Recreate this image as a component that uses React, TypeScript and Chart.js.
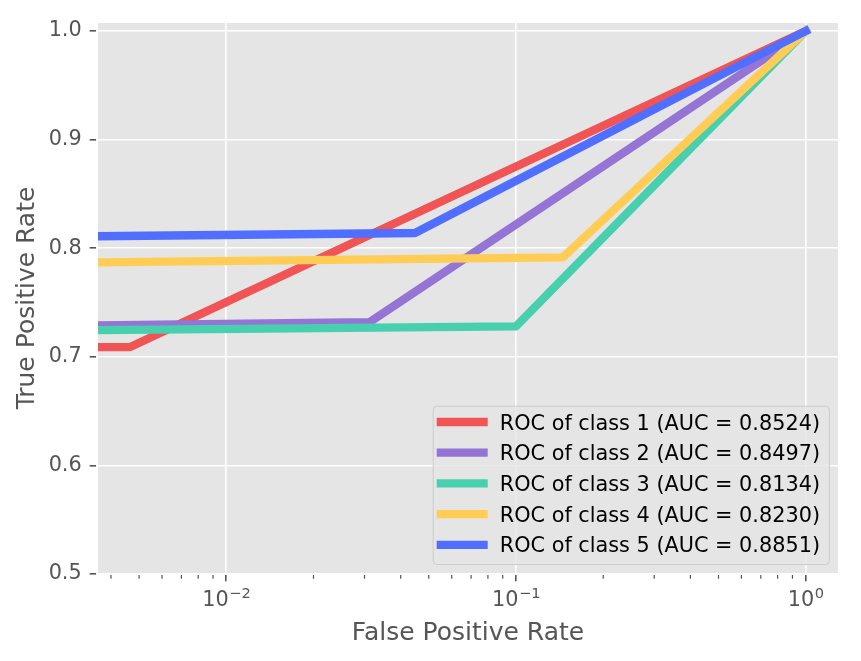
import React, { useEffect, useRef } from 'react';
import { Chart, registerables } from 'chart.js';

Chart.register(...registerables);

// ROC curves, one per class: false positive rate (x) against true positive rate (y)
const FPR_CLASS_1 = [0.0035, 0.00466, 1.0];
const TPR_CLASS_1 = [0.709, 0.709, 1.0];
const FPR_CLASS_2 = [0.0035, 0.0313, 1.0];
const TPR_CLASS_2 = [0.729, 0.732, 1.0];
const FPR_CLASS_3 = [0.0035, 0.1, 1.0];
const TPR_CLASS_3 = [0.7245, 0.728, 1.0];
const FPR_CLASS_4 = [0.0035, 0.145, 1.0];
const TPR_CLASS_4 = [0.787, 0.7915, 1.0];
const FPR_CLASS_5 = [0.0035, 0.0448, 1.0];
const TPR_CLASS_5 = [0.811, 0.814, 1.0];

const CLASS_NAMES = ['1', '2', '3', '4', '5'];
const AUC_VALUES = [0.8524, 0.8497, 0.8134, 0.823, 0.8851];

// axis ticks
const X_TICKS = [0.01, 0.1, 1];
const X_TICK_EXPONENTS = ['\u22122', '\u22121', '0'];
const X_MINOR_TICKS = [
  0.004, 0.005, 0.006, 0.007, 0.008, 0.009,
  0.02, 0.03, 0.04, 0.05, 0.06, 0.07, 0.08, 0.09,
  0.2, 0.3, 0.4, 0.5, 0.6, 0.7, 0.8, 0.9,
];
const Y_TICKS = [0.5, 0.6, 0.7, 0.8, 0.9, 1.0];

const X_MIN = 0.003579;
const X_MAX = 1.303;
const Y_MIN = 0.5;
const Y_MAX = 1.0083;

const FPR_SERIES = [FPR_CLASS_1, FPR_CLASS_2, FPR_CLASS_3, FPR_CLASS_4, FPR_CLASS_5];
const TPR_SERIES = [TPR_CLASS_1, TPR_CLASS_2, TPR_CLASS_3, TPR_CLASS_4, TPR_CLASS_5];

const LINE_COLORS = ['#F05454', '#9474D4', '#48CFAD', '#FFCD56', '#506EFF'];
const FONT = '"DejaVu Sans", "Liberation Sans", sans-serif';
const TEXT_GREY = '#555555';
const PANEL_GREY = '#E5E5E5';
const TICK_SIZE = 20.8;
const EXP_SIZE = 14.6;
const TITLE_SIZE = 25;
const LEGEND_SIZE = 20.8;

function roundedRect(ctx: CanvasRenderingContext2D, x: number, y: number, w: number, h: number, r: number) {
  ctx.beginPath();
  ctx.moveTo(x + r, y);
  ctx.lineTo(x + w - r, y);
  ctx.arcTo(x + w, y, x + w, y + r, r);
  ctx.lineTo(x + w, y + h - r);
  ctx.arcTo(x + w, y + h, x + w - r, y + h, r);
  ctx.lineTo(x + r, y + h);
  ctx.arcTo(x, y + h, x, y + h - r, r);
  ctx.lineTo(x, y + r);
  ctx.arcTo(x, y, x + r, y, r);
  ctx.closePath();
}

const decorPlugin = {
  id: 'rocDecor',
  beforeDraw(chart: any) {
    const { ctx, chartArea: a } = chart;
    ctx.save();
    ctx.fillStyle = '#FFFFFF';
    ctx.fillRect(0, 0, chart.width, chart.height);
    ctx.fillStyle = PANEL_GREY;
    ctx.fillRect(a.left, a.top, a.right - a.left, a.bottom - a.top);
    ctx.restore();
  },
  afterDatasetsDraw(chart: any) {
    const { ctx, chartArea: a } = chart;
    ctx.save();
    ctx.strokeStyle = '#FFFFFF';
    ctx.lineWidth = 2;
    ctx.strokeRect(a.left, a.top, a.right - a.left, a.bottom - a.top);
    ctx.restore();
  },
  afterDraw(chart: any) {
    const { ctx, chartArea: a } = chart;
    const xs = chart.scales.x;
    ctx.save();

    // minor ticks on the log axis
    ctx.strokeStyle = TEXT_GREY;
    ctx.lineWidth = 1.2;
    ctx.beginPath();
    for (const v of X_MINOR_TICKS) {
      const px = xs.getPixelForValue(v);
      if (px < a.left || px > a.right) continue;
      ctx.moveTo(px, a.bottom + 1);
      ctx.lineTo(px, a.bottom + 4.8);
    }
    ctx.stroke();

    // decade labels: 10 with a superscript exponent
    ctx.fillStyle = TEXT_GREY;
    ctx.textAlign = 'left';
    ctx.textBaseline = 'alphabetic';
    X_TICKS.forEach((v, i) => {
      const px = xs.getPixelForValue(v);
      ctx.font = `${TICK_SIZE}px ${FONT}`;
      const wBase = ctx.measureText('10').width;
      ctx.font = `${EXP_SIZE}px ${FONT}`;
      const wExp = ctx.measureText(X_TICK_EXPONENTS[i]).width;
      const start = px - (wBase + wExp) / 2;
      ctx.font = `${TICK_SIZE}px ${FONT}`;
      ctx.fillText('10', start, a.bottom + 32);
      ctx.font = `${EXP_SIZE}px ${FONT}`;
      ctx.fillText(X_TICK_EXPONENTS[i], start + wBase + 0.5, a.bottom + 24.3);
    });

    // axis titles
    ctx.font = `${TITLE_SIZE}px ${FONT}`;
    ctx.textAlign = 'center';
    ctx.fillText('False Positive Rate', (a.left + a.right) / 2, a.bottom + 66);
    ctx.save();
    ctx.translate(a.left - 63, (a.top + a.bottom) / 2);
    ctx.rotate(-Math.PI / 2);
    ctx.fillText('True Positive Rate', 0, 0);
    ctx.restore();

    // legend in the lower right corner
    const labels = chart.data.datasets.map((d: any) => d.label as string);
    ctx.font = `${LEGEND_SIZE}px ${FONT}`;
    const textW = Math.max(...labels.map((l: string) => ctx.measureText(l).width));
    const rowGap = 30.7;
    const boxH = 16.3 + rowGap * (labels.length - 1) + 19.2;
    const boxW = 68 + textW + 8;
    const right = a.right - 10;
    const bottom = a.bottom - 10;
    const left = right - boxW;
    const top = bottom - boxH;
    roundedRect(ctx, left + 0.5, top + 0.5, boxW, boxH, 4);
    ctx.fillStyle = 'rgba(229,229,229,0.8)';
    ctx.fill();
    ctx.strokeStyle = '#CCCCCC';
    ctx.lineWidth = 1;
    ctx.stroke();
    chart.data.datasets.forEach((d: any, i: number) => {
      const cy = top + 16.3 + i * rowGap;
      ctx.strokeStyle = d.borderColor;
      ctx.lineWidth = 8.3;
      ctx.lineCap = 'butt';
      ctx.beginPath();
      ctx.moveTo(left + 4, cy);
      ctx.lineTo(left + 55, cy);
      ctx.stroke();
      ctx.fillStyle = '#000000';
      ctx.textAlign = 'left';
      ctx.textBaseline = 'alphabetic';
      ctx.fillText(d.label, left + 67, cy + 7.5);
    });

    ctx.restore();
  },
};

export default function App() {
  const canvasRef = useRef<HTMLCanvasElement>(null);

  useEffect(() => {
    if (!canvasRef.current) return;
    const datasets = FPR_SERIES.map((fpr, i) => ({
      label: `ROC of class ${CLASS_NAMES[i]} (AUC = ${AUC_VALUES[i].toFixed(4)})`,
      data: fpr.map((x, j) => ({ x, y: TPR_SERIES[i][j] })),
      borderColor: LINE_COLORS[i],
      backgroundColor: LINE_COLORS[i],
      borderWidth: 8.3,
      borderJoinStyle: 'round' as const,
      borderCapStyle: 'square' as const,
      pointRadius: 0,
      tension: 0,
      fill: false,
      clip: 0,
      order: FPR_SERIES.length - 1 - i,
    }));

    const gridStyle = {
      color: '#FFFFFF',
      lineWidth: 1.6,
      tickColor: TEXT_GREY,
      tickWidth: 1.6,
      tickLength: 7.3,
      drawTicks: true,
    };

    const chart = new Chart(canvasRef.current, {
      type: 'line',
      data: { datasets },
      options: {
        responsive: false,
        animation: false,
        devicePixelRatio: 1,
        events: [],
        layout: { padding: { top: 22, right: 22, left: 0, bottom: 0 } },
        plugins: {
          legend: { display: false },
          tooltip: { enabled: false },
          title: { display: false },
        },
        scales: {
          x: {
            type: 'logarithmic',
            min: X_MIN,
            max: X_MAX,
            afterBuildTicks: (s: any) => {
              s.ticks = X_TICKS.map((value) => ({ value }));
            },
            afterFit: (s: any) => {
              s.height = 87;
            },
            ticks: { display: false },
            grid: gridStyle,
            border: { display: false },
          },
          y: {
            type: 'linear',
            min: Y_MIN,
            max: Y_MAX,
            afterBuildTicks: (s: any) => {
              s.ticks = Y_TICKS.map((value) => ({ value }));
            },
            afterFit: (s: any) => {
              s.width = 97;
            },
            ticks: {
              callback: (v: any) => Number(v).toFixed(1),
              font: { family: FONT, size: TICK_SIZE },
              color: TEXT_GREY,
              padding: 8,
            },
            grid: gridStyle,
            border: { display: false },
          },
        },
      } as any,
      plugins: [decorPlugin],
    });

    return () => chart.destroy();
  }, []);

  return (
    <div style={{ position: 'absolute', left: 0, top: 0, width: 861, height: 661, background: '#FFFFFF' }}>
      <canvas ref={canvasRef} width={861} height={661} style={{ display: 'block', width: 861, height: 661 }} />
    </div>
  );
}
